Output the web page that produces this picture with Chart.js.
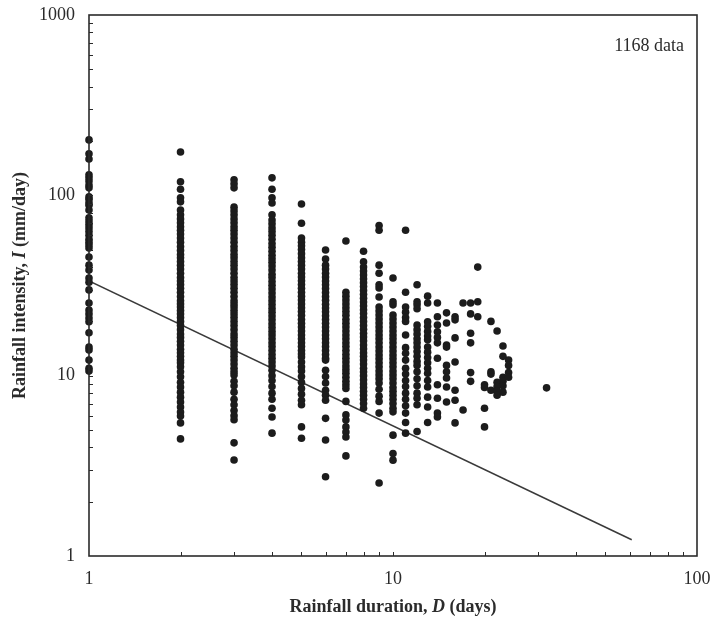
<!DOCTYPE html>
<html>
<head>
<meta charset="utf-8">
<script src="https://cdn.jsdelivr.net/npm/chart.js@4/dist/chart.umd.min.js"></script>
<style>
  html, body { margin: 0; padding: 0; background: #fff; }
  #wrap { width: 713px; height: 621px; }
</style>
</head>
<body>
<div id="wrap"><canvas id="rainChart" width="713" height="621"></canvas></div>
<script>
// rainfall intensity (mm/day), one array per duration (days)
const i1 = [203, 170, 159, 130, 125, 120, 114, 110, 98, 95, 91, 88, 83, 75, 72, 69, 66, 63, 60, 57, 55, 53, 51, 45.5, 41, 38.5, 34.8, 33, 29.9, 25.3, 23.1, 22, 20.9, 19.9, 17.3, 14.4, 13.9, 12.2, 11, 10.6];
const i2 = [174, 119, 108, 97, 92, 83, 78, 74, 70.5, 67, 64, 61, 58, 55, 52, 49.5, 47, 45, 43, 41, 39, 37, 35, 33.5, 32, 30.5, 29, 27.5, 26, 25, 24, 23, 22, 21, 20, 19, 18, 17, 16.3, 15.5, 14.8, 14, 13.4, 12.8, 12.2, 11.8, 11.2, 10.5, 9.85, 9.2, 8.66, 8.1, 7.6, 7.14, 6.7, 6.28, 5.97, 5.47, 4.46];
const i3 = [122, 116, 110, 86, 82, 78, 74, 70.5, 67, 64, 61, 58, 55, 52, 49.5, 47, 45, 43, 41, 39, 37, 35, 33.5, 32, 30.5, 29, 27.5, 26, 25, 24, 23, 22, 21, 20, 19, 18, 17, 16.3, 15.5, 14.8, 14, 13.4, 12.8, 12.2, 11.6, 11, 10.5, 10.1, 9.3, 8.8, 8.1, 7.4, 6.9, 6.4, 6.0, 5.7, 4.24, 3.41];
const i4 = [125, 108, 97, 90.6, 78, 73, 69.5, 66, 63, 60, 57, 54, 51.5, 49, 46.5, 44.5, 42.5, 40.5, 38.5, 36.5, 35, 33.3, 31.7, 30.2, 28.7, 27.3, 26, 24.8, 23.6, 22.5, 21.4, 20.4, 19.4, 18.5, 17.6, 16.8, 16, 15.2, 14.5, 13.8, 13.1, 12.5, 11.9, 11.3, 10.7, 10.0, 9.4, 8.7, 8.0, 7.4, 6.6, 5.9, 4.8];
const i5 = [89.5, 70, 58, 55, 52.5, 50, 47.5, 45, 43, 41, 39, 37, 35.3, 33.6, 32, 30.5, 29, 27.6, 26.3, 25, 23.8, 22.7, 21.6, 20.5, 19.5, 18.6, 17.7, 16.8, 16, 15.2, 14.5, 13.8, 13.2, 12.7, 11.9, 11.2, 10.6, 9.9, 9.2, 8.5, 7.9, 7.3, 6.9, 5.2, 4.5];
const i6 = [49.8, 44.3, 41, 39, 37, 35.2, 33.5, 31.9, 30.4, 28.9, 27.5, 26.2, 24.9, 23.7, 22.6, 21.5, 20.5, 19.5, 18.6, 17.7, 16.8, 16, 15.2, 14.5, 13.8, 13.1, 12.5, 12.2, 10.7, 9.9, 9.1, 8.3, 7.8, 7.3, 5.8, 4.4, 2.75];
const i7 = [55.8, 29, 27.6, 26.3, 25, 23.8, 22.7, 21.6, 20.5, 19.5, 18.6, 17.7, 16.8, 16, 15.2, 14.5, 13.8, 13.1, 12.5, 11.9, 11.3, 10.8, 10.3, 9.8, 9.3, 8.9, 8.5, 7.2, 6.06, 5.67, 5.2, 4.87, 4.57, 3.59];
const i8 = [49, 42.8, 40, 38, 36.2, 34.5, 32.8, 31.2, 29.7, 28.3, 26.9, 25.6, 24.4, 23.2, 22.1, 21, 20, 19, 18.1, 17.2, 16.4, 15.6, 14.8, 14.1, 13.4, 12.8, 12.2, 11.6, 11, 10.5, 10, 9.5, 9, 8.6, 8.2, 7.8, 7.4, 7, 6.6];
const i9 = [68, 64, 41, 37, 31.9, 30.6, 27.3, 24, 22.8, 21.7, 20.6, 19.6, 18.6, 17.7, 16.8, 16, 15.2, 14.4, 13.7, 13, 12.4, 11.8, 11.2, 10.6, 10.1, 9.6, 9.1, 8.4, 7.7, 7.2, 6.2, 2.54];
const i10 = [34.8, 25.7, 24.7, 21.7, 20.6, 19.6, 18.6, 17.7, 16.8, 16, 15.2, 14.4, 13.7, 13, 12.4, 11.8, 11.2, 10.6, 10.1, 9.6, 9.1, 8.6, 8.2, 7.8, 7.4, 7, 6.6, 6.3, 4.68, 3.7, 3.4];
const i11 = [64, 29, 24, 22.5, 21, 20, 16.8, 14.3, 13.3, 12.2, 11, 10.2, 9.4, 8.7, 8, 7.4, 6.8, 6.2, 5.5, 4.8];
const i12 = [31.9, 25.7, 24.7, 23.5, 19.1, 18, 17, 16, 15.2, 14.4, 13.6, 12.8, 12, 11.4, 10.5, 9.6, 8.8, 8, 7.5, 6.9, 4.9];
const i13 = [27.6, 25.3, 19.9, 18.8, 17.6, 16.6, 15.8, 14.4, 13.5, 12.6, 11.8, 11, 10.3, 9.4, 8.66, 7.6, 6.7, 5.5];
const i14 = [25.3, 21.2, 19.1, 17.5, 16.3, 15.2, 12.5, 8.9, 7.5, 6.2, 5.9];
const i15 = [22.3, 19.6, 14.8, 14.4, 11.4, 10.5, 9.7, 8.66, 7.14];
const i16 = [21.2, 20.4, 16.2, 11.9, 8.3, 7.3, 5.47];
const i17 = [25.3, 6.45];
const i18 = [25.3, 22, 17.2, 15.2, 10.4, 9.3];
const i19 = [40, 25.7, 21.2];
const i20 = [8.9, 8.6, 6.6, 5.2];
const i21 = [20, 10.5, 10.2, 8.3];
const i22 = [17.7, 9.2, 8.7, 8.2, 7.8];
const i23 = [14.6, 12.8, 9.8, 9.3, 8.8, 8.1];
const i24 = [12.2, 11.4, 10.4, 9.8];
const i32 = [8.56];

const durations = [1, 2, 3, 4, 5, 6, 7, 8, 9, 10, 11, 12, 13, 14, 15, 16, 17, 18, 19, 20, 21, 22, 23, 24, 32];
const intensities = [i1, i2, i3, i4, i5, i6, i7, i8, i9, i10, i11, i12, i13, i14, i15, i16, i17, i18, i19, i20, i21, i22, i23, i24, i32];

// threshold line end points
const lineD = [1, 61];
const lineI = [33.5, 1.23];

const xTickLabels = [1, 10, 100];
const yTickLabels = [1, 10, 100, 1000];
const xMinorTicks = [2, 3, 4, 5, 6, 7, 8, 9, 10, 20, 30, 40, 50, 60, 70, 80, 90];
const yMinorTicks = [2, 3, 4, 5, 6, 7, 8, 9, 10, 20, 30, 40, 50, 60, 70, 80, 90, 100, 200, 300, 400, 500, 600, 700, 800, 900];

const points = [];
durations.forEach((d, k) => {
    intensities[k].forEach(v => points.push({ x: d, y: v }));
});

const serif = "'Liberation Serif', 'Times New Roman', serif";
const ink = '#2b2b2b';

// frame, inner ticks, axis titles and the count label
const framePlugin = {
    id: 'frame',
    afterDraw(chart) {
        const { ctx, chartArea: a, scales } = chart;
        ctx.save();
        ctx.strokeStyle = ink;
        ctx.lineWidth = 1;
        ctx.beginPath();
        xMinorTicks.forEach(v => {
            const px = Math.round(scales.x.getPixelForValue(v)) + 0.5;
            ctx.moveTo(px, a.bottom);
            ctx.lineTo(px, a.bottom - 4);
        });
        yMinorTicks.forEach(v => {
            const py = Math.round(scales.y.getPixelForValue(v)) + 0.5;
            ctx.moveTo(a.left, py);
            ctx.lineTo(a.left + 4, py);
        });
        ctx.stroke();

        ctx.lineWidth = 1.6;
        ctx.strokeRect(a.left, a.top, a.right - a.left, a.bottom - a.top);

        ctx.fillStyle = ink;
        ctx.textBaseline = 'middle';

        // x title with italic D
        const xParts = [['Rainfall duration, ', 'bold'], ['D', 'italic bold'], [' (days)', 'bold']];
        drawParts(ctx, xParts, (a.left + a.right) / 2, 607);

        // y title, rotated
        ctx.save();
        ctx.translate(20, (a.top + a.bottom) / 2);
        ctx.rotate(-Math.PI / 2);
        const yParts = [['Rainfall intensity, ', 'bold'], ['I', 'italic bold'], [' (mm/day)', 'bold']];
        drawParts(ctx, yParts, 0, 0);
        ctx.restore();

        ctx.font = '18px ' + serif;
        ctx.textAlign = 'right';
        ctx.fillText('1168 data', a.right - 13, 46);
        ctx.restore();
    }
};

function drawParts(ctx, parts, cx, cy) {
    let total = 0;
    parts.forEach(p => {
        ctx.font = p[1] + ' 18px ' + serif;
        total += ctx.measureText(p[0]).width;
    });
    let x = cx - total / 2;
    ctx.textAlign = 'left';
    parts.forEach(p => {
        ctx.font = p[1] + ' 18px ' + serif;
        ctx.fillText(p[0], x, cy);
        x += ctx.measureText(p[0]).width;
    });
}

const isLabel = (v, list) => list.some(t => Math.abs(t - v) < 1e-6 * t);

new Chart(document.getElementById('rainChart'), {
    type: 'scatter',
    data: {
        datasets: [
            {
                label: 'Rainfall events',
                data: points,
                clip: false,
                pointRadius: 3.8,
                pointHoverRadius: 3.8,
                pointBackgroundColor: '#1c1c1c',
                pointBorderWidth: 0
            },
            {
                label: 'Threshold',
                type: 'line',
                data: lineD.map((d, k) => ({ x: d, y: lineI[k] })),
                borderColor: '#3a3a3a',
                borderWidth: 1.5,
                pointRadius: 0,
                fill: false
            }
        ]
    },
    options: {
        responsive: false,
        animation: false,
        layout: { padding: { left: 0, right: 16, top: 15, bottom: 0 } },
        plugins: {
            legend: { display: false },
            tooltip: { enabled: false }
        },
        scales: {
            x: {
                type: 'logarithmic',
                min: 1,
                max: 100,
                grid: { display: false, drawTicks: false },
                border: { display: false },
                ticks: {
                    autoSkip: false,
                    maxRotation: 0,
                    padding: 12,
                    color: ink,
                    font: { family: serif, size: 18 },
                    callback: v => isLabel(v, xTickLabels) ? String(v) : ''
                },
                afterFit: s => {
                    s.height = 65;
                    s.paddingLeft = 0;
                    s.paddingRight = 0;
                }
            },
            y: {
                type: 'logarithmic',
                min: 1,
                max: 1000,
                grid: { display: false, drawTicks: false },
                border: { display: false },
                ticks: {
                    autoSkip: false,
                    padding: 14,
                    color: ink,
                    font: { family: serif, size: 18 },
                    callback: v => isLabel(v, yTickLabels) ? String(v) : ''
                },
                afterFit: s => {
                    s.width = 89;
                    s.paddingTop = 0;
                    s.paddingBottom = 0;
                }
            }
        }
    },
    plugins: [framePlugin]
});
</script>
</body>
</html>
